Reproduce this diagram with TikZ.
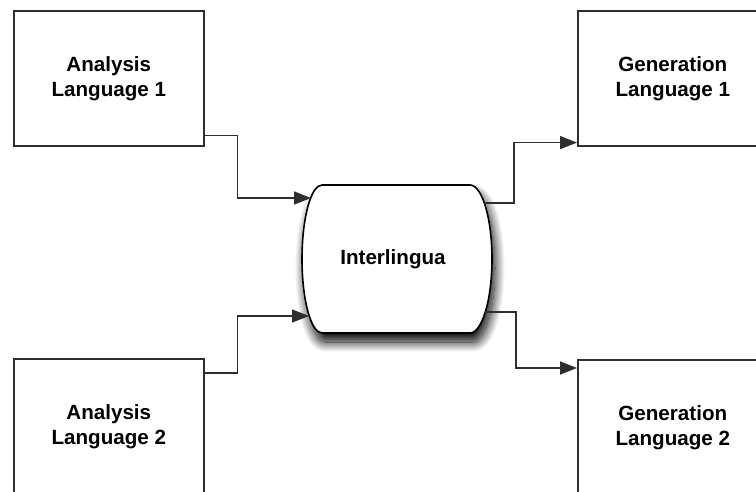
\documentclass[tikz,border=0pt]{standalone}
\usepackage{fontspec}
\setmainfont{Liberation Sans}
\usetikzlibrary{arrows.meta,shadows.blur}
\definecolor{edge}{HTML}{2E2E2E}
\tikzset{
  stagebox/.style={draw=edge, line width=1.6pt, fill=white, minimum width=190pt,
    minimum height=135pt, align=center, inner sep=0pt,
    font=\fontsize{20.6}{25}\selectfont\bfseries},
  label/.style={font=\fontsize{20.6}{25}\selectfont\bfseries, inner sep=0pt},
  link/.style={draw=edge, line width=1.5pt,
    -{Triangle[length=17pt,width=13pt]}},
}
\begin{document}
\begin{tikzpicture}[x=1pt,y=-1pt]
\useasboundingbox (0,0) rectangle (756,491);
\clip (0,0) rectangle (756,491);

% analysis and generation stages
\node[stagebox, anchor=north west] (a1) at (13,10) {Analysis\\Language 1};
\node[stagebox, anchor=north west] (a2) at (13,358) {Analysis\\Language 2};
\node[stagebox, anchor=north west] (g1) at (577,10) {Generation\\Language 1};
\node[stagebox, anchor=north west] (g2) at (577,359) {Generation\\Language 2};

% interlingua: flat top and bottom, elliptic sides, soft drop shadow
\draw[black, line width=1.6pt, fill=white,
      blur shadow={shadow xshift=3pt, shadow yshift=-9pt,
                   shadow blur radius=10pt, shadow opacity=100,
                   shadow blur steps=24}]
  (322,185) -- (470,185)
  .. controls (482,185) and (492,218) .. (492,259)
  .. controls (492,300) and (482,333) .. (470,333)
  -- (322,333)
  .. controls (311,333) and (302,300) .. (302,259)
  .. controls (302,218) and (311,185) .. (322,185) -- cycle;
\node[label] (il) at (393,259) {Interlingua};

% ports on the interlingua outline
\coordinate (inA) at (311,198);
\coordinate (inB) at (309,316);
\coordinate (outA) at (484,203);
\coordinate (outB) at (485,312);

% connectors
\draw[link] ([yshift=11pt]a1.south east) -- ++(33,0) |- (inA);
\draw[link] ([yshift=-15pt]a2.north east) -- ++(33,0) |- (inB);
\draw[link] (outA) -- ++(30,0) |- ([yshift=4pt]g1.south west);
\draw[link] (outB) -- ++(31,0) |- ([yshift=-9pt]g2.north west);
\end{tikzpicture}
\end{document}
